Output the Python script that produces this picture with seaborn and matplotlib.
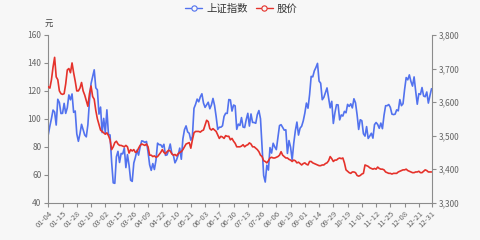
import matplotlib
matplotlib.use("Agg")
import matplotlib.pyplot as plt
import seaborn as sns
import numpy as np
from matplotlib.lines import Line2D
from matplotlib.ticker import FuncFormatter, MultipleLocator

# ---------------- data ----------------
tick_labels = ['01-04', '01-15', '01-28', '02-10', '03-02', '03-15', '03-26', '04-09',
               '04-22', '05-10', '05-21', '06-03', '06-17', '06-30', '07-13', '07-26',
               '08-06', '08-19', '09-01', '09-14', '09-29', '10-19', '11-01', '11-12',
               '11-25', '12-08', '12-21', '12-31']
tick_index = [0, 9, 18, 27, 36, 45, 54, 63, 72, 81, 90, 99, 108, 117, 126, 135,
              144, 153, 162, 171, 180, 189, 198, 207, 216, 225, 234, 242]

index_close = [
    3502.96, 3528.68, 3550.88, 3576.20, 3570.11, 3531.50, 3608.34, 3598.65, 3565.90, 3566.38,
    3596.22, 3566.26, 3583.09, 3621.26, 3606.75, 3624.24, 3569.43, 3573.34, 3505.18, 3483.07,
    3505.28, 3533.68, 3517.31, 3501.86, 3496.33, 3532.44, 3603.49, 3655.09, 3675.36, 3696.17,
    3642.44, 3636.36, 3564.08, 3585.05, 3509.08,
    3551.40, 3508.59, 3576.90, 3503.49, 3501.99, 3421.41, 3359.29, 3357.74, 3436.83, 3453.08,
    3419.95, 3446.73, 3445.55, 3463.07, 3404.66, 3443.44, 3411.51, 3367.06, 3363.59, 3418.33,
    3435.30, 3456.68, 3441.91,
    3466.33, 3484.39, 3482.94, 3479.63, 3482.56, 3450.68, 3412.95, 3396.47, 3416.60, 3398.99,
    3426.62, 3477.55, 3472.94, 3472.93, 3465.11, 3474.17, 3441.17, 3442.61, 3457.07, 3474.90,
    3446.86,
    3441.28, 3418.87, 3427.99, 3441.85, 3462.75, 3429.54, 3490.38, 3517.62, 3529.01, 3510.96,
    3506.94, 3486.56, 3497.28, 3581.34, 3593.36, 3608.85, 3600.78, 3615.48,
    3624.71, 3597.14, 3584.22, 3591.84, 3599.54, 3580.11, 3591.40, 3610.86, 3589.75, 3556.56,
    3518.33, 3525.10, 3525.10, 3529.18, 3557.41, 3566.65, 3566.22, 3607.56, 3606.37, 3573.18,
    3591.20,
    3588.78, 3518.76, 3534.32, 3530.26, 3553.72, 3525.50, 3524.09, 3547.84, 3566.50, 3528.50,
    3564.59, 3539.30, 3539.12, 3536.79, 3562.70, 3574.73, 3550.40, 3467.44, 3381.18, 3361.59,
    3411.72, 3397.36,
    3464.29, 3447.99, 3477.22, 3466.56, 3458.23, 3494.63, 3529.93, 3532.62, 3524.74, 3516.30,
    3517.34, 3446.98, 3485.29, 3465.55, 3427.33, 3477.13, 3514.47, 3540.38, 3501.66, 3522.16,
    3528.15, 3543.94,
    3567.10, 3597.04, 3581.73, 3621.86, 3676.59, 3675.19, 3693.13, 3703.11, 3715.37, 3662.60,
    3656.22, 3607.09, 3613.97, 3628.49, 3642.22, 3613.07, 3582.83, 3602.22, 3536.29, 3568.17,
    3592.17, 3591.71, 3546.94, 3561.76, 3558.28, 3572.37, 3568.14, 3593.15, 3587.00, 3594.78,
    3582.60, 3609.86, 3597.64, 3562.31, 3518.42, 3547.34,
    3544.48, 3505.63, 3498.54, 3526.87, 3491.57, 3498.63, 3507.00, 3492.46, 3532.79, 3539.10,
    3533.30, 3521.79, 3537.37, 3520.71, 3560.37, 3589.09, 3589.31, 3592.70, 3584.18, 3564.09,
    3562.70, 3563.89,
    3576.89, 3573.84, 3607.43, 3589.31, 3595.09, 3637.57, 3673.04, 3666.35, 3681.08, 3661.53,
    3647.63, 3675.02, 3632.36, 3593.60, 3625.13, 3622.62, 3643.34, 3618.05, 3615.97, 3630.11,
    3597.00, 3619.19, 3639.78,
]

stock_price = [
    123, 122, 128, 137, 144, 130, 128, 120, 118, 117.5,
    118, 125, 135, 136, 133, 140, 133, 127, 120, 120,
    122, 126, 120, 117, 113, 109, 118, 123.5, 116, 114,
    106, 100, 96, 92, 91, 90, 89, 90, 88, 85,
    78, 80, 83, 84, 82, 81, 81, 80.5, 80, 81,
    80, 75.5, 78, 77, 78, 76, 76.5, 79, 81, 82,
    81.5, 81, 82, 80, 74, 74, 73, 73.5, 72.5, 73,
    74.5, 76, 78, 76, 75, 76.5, 77.5, 77, 75, 74,
    74.5, 73.5, 75, 76, 76.5, 78, 80, 82, 82.5, 83,
    79, 85, 90, 91, 91, 91, 90.5, 91.5, 92, 95.5,
    99, 98, 93, 92, 93, 92, 91, 88.5, 86, 87.5,
    87, 86, 88, 87.5, 87.5, 85, 86, 84, 82.5, 80,
    80, 80, 80.5, 81.5, 80, 81, 81.5, 82.8, 82, 80,
    80, 79, 78, 76.5, 74, 73, 70, 69.5, 68.5, 70,
    72, 72.5, 72, 72, 72.5, 73, 74, 76.5, 74, 73,
    72, 72, 71, 70.5, 69.5, 70.5, 70, 68.5, 69, 68,
    67, 68, 68.5, 67.5, 67, 69.5, 69.5, 68.5, 68, 67.5,
    67, 66.5, 66.5, 67, 67, 68, 68.5, 70, 73, 71.5,
    69.5, 70.5, 70.5, 71.5, 72, 71.5, 72, 68.5, 63.5, 62.5,
    61.5, 61, 62, 62, 61.5, 59.5, 59, 59.5, 60.5, 61,
    67, 66.5, 66, 65, 64.5, 64, 64.5, 64, 65.5, 64.5,
    64, 64, 63.5, 62, 61.5, 61, 61, 60.5, 61, 61,
    61, 62, 62.5, 63, 63.5, 63.5, 64, 63, 62.5, 62,
    61.5, 61.5, 62, 62, 62.5, 61.5, 61.5, 62.5, 63.5, 63,
    62, 62, 62,
]

series_names = ['上证指数', '股价']
left_unit = '元'

# ---------------- style ----------------
sns.set_style("white")
plt.rcParams['font.family'] = ['Noto Sans CJK SC', 'DejaVu Sans']

BG = '#f7f7f7'
BLUE = '#5272ee'
RED = '#e5322b'
AXIS = '#8c8c8c'
TXT = '#666666'

fig = plt.figure(figsize=(4.8, 2.4), dpi=100, facecolor=BG)
ax = fig.add_axes([0.1006, 0.1554, 0.7984, 0.6988])
ax.set_facecolor(BG)
ax2 = ax.twinx()

x_stock = np.arange(len(stock_price))
x_index = np.arange(len(index_close))

sns.lineplot(x=x_stock, y=stock_price, ax=ax, color=RED, linewidth=1.2, zorder=3)
sns.lineplot(x=x_index, y=index_close, ax=ax2, color=BLUE, linewidth=1.2, zorder=2)

ax.set_zorder(ax2.get_zorder() + 1)
ax.patch.set_visible(False)
ax2.patch.set_visible(True)
ax2.patch.set_facecolor(BG)

n = max(len(stock_price), len(index_close))
ax.set_xlim(0, n - 1)
ax.set_ylim(40, 160)
ax.yaxis.set_major_locator(MultipleLocator(20))
ax2.set_ylim(3300, 3800)
ax2.yaxis.set_major_locator(MultipleLocator(100))
ax2.yaxis.set_major_formatter(FuncFormatter(lambda v, p: f"{int(v):,}"))

ax.set_xticks(tick_index)
ax.set_xticklabels(tick_labels, rotation=45, ha='right', rotation_mode='anchor')

for a in (ax, ax2):
    a.grid(False)
    a.set_xlabel('')
    a.set_ylabel('')
    for s in a.spines.values():
        s.set_visible(False)

ax.spines['left'].set_visible(True)
ax.spines['left'].set_color(AXIS)
ax.spines['bottom'].set_visible(True)
ax.spines['bottom'].set_color(AXIS)
ax2.spines['right'].set_visible(True)
ax2.spines['right'].set_color(AXIS)
for s in ('left', 'bottom'):
    ax.spines[s].set_linewidth(0.8)
ax2.spines['right'].set_linewidth(0.8)

ax.tick_params(axis='y', which='both', left=True, length=3, width=0.8, color=AXIS,
               labelsize=6, labelcolor=TXT, pad=2)
ax.tick_params(axis='x', which='both', bottom=True, length=3, width=0.8, color=AXIS,
               labelsize=5.6, labelcolor=TXT, pad=2)
ax2.tick_params(axis='y', which='both', right=True, length=3, width=0.8, color=AXIS,
                labelsize=6, labelcolor=TXT, pad=2)

ax.text(0.0, 1.07, left_unit, transform=ax.transAxes, ha='center', va='center',
        fontsize=6, color='#444444')

handles = [
    Line2D([0], [0], color=BLUE, lw=1.0, marker='o', markersize=3.8,
           markerfacecolor=BG, markeredgecolor=BLUE, markeredgewidth=0.8),
    Line2D([0], [0], color=RED, lw=1.0, marker='o', markersize=3.8,
           markerfacecolor=BG, markeredgecolor=RED, markeredgewidth=0.8),
]
fig.legend(handles, series_names, loc='center', bbox_to_anchor=(0.503, 0.962), ncol=2,
           frameon=False, fontsize=7.5, handlelength=1.6, handletextpad=0.4,
           columnspacing=0.8, labelcolor='#333333')

fig.savefig('out.png', dpi=100, facecolor=BG)
